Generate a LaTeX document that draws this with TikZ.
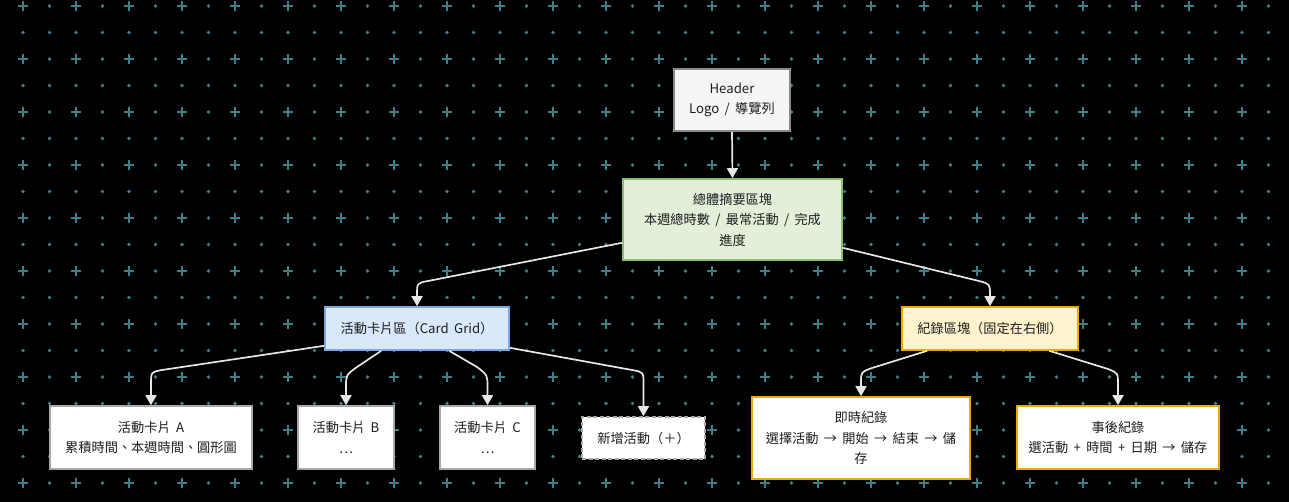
\documentclass[tikz,border=0pt]{standalone}
\usepackage{fontspec}
\setmainfont[WordSpace=1.8]{Noto Sans CJK TC}
\usetikzlibrary{arrows.meta,calc}
\definecolor{bgdot}{HTML}{3F7F88}
\definecolor{edgec}{HTML}{E6E6E6}
\definecolor{txt}{HTML}{1E1E1E}
\definecolor{gfill}{HTML}{E2F0D9}
\definecolor{gdraw}{HTML}{8DBD72}
\definecolor{bfill}{HTML}{DAE8FC}
\definecolor{bdraw}{HTML}{7EA6E0}
\definecolor{yfill}{HTML}{FFF2CC}
\definecolor{ydraw}{HTML}{E8AA00}
\definecolor{hfill}{HTML}{F5F5F5}
\definecolor{hdraw}{HTML}{8A8A8A}
\definecolor{wdraw}{HTML}{A8A8A8}
\tikzset{
  box/.style={rectangle, draw, line width=1.6pt, align=center, inner sep=0pt,
    text=txt, font=\fontsize{13.2}{20.5}\selectfont},
  edge/.style={draw=edgec, line width=1.7pt, -{Triangle[width=11pt,length=10pt]}},
}
\begin{document}
\begin{tikzpicture}[x=1pt,y=-1pt]
\fill[black] (0,0) rectangle (1289,502);
\useasboundingbox (0,0) rectangle (1289,502);
% background dot/plus grid
\foreach \i in {0,...,48} {
  \foreach \j in {0,...,18} {
    \pgfmathsetmacro{\xx}{23+26.5*\i}
    \pgfmathsetmacro{\yy}{6+26.5*\j}
    \pgfmathtruncatemacro{\pp}{mod(\i,2)+mod(\j,2)}
    \ifnum\pp=0
      \fill[bgdot] (\xx-5,\yy-1.4) rectangle (\xx+5,\yy+1.4);
      \fill[bgdot] (\xx-1.4,\yy-5) rectangle (\xx+1.4,\yy+5);
    \else
      \fill[bgdot] (\xx,\yy) circle (1.8);
    \fi
  }
}
% nodes
\node[box, draw=hdraw, fill=hfill, minimum width=116pt, minimum height=62pt] (hdr) at (732,100) {Header\\Logo / 導覽列};
\node[box, draw=gdraw, fill=gfill, minimum width=219pt, minimum height=81pt] (sum) at (732.5,219.5) {總體摘要區塊\\本週總時數 / 最常活動 / 完成\\進度};
\node[box, draw=bdraw, fill=bfill, minimum width=184pt, minimum height=43pt] (grid) at (417,328.5) {活動卡片區（Card Grid）};
\node[box, draw=ydraw, fill=yfill, minimum width=176pt, minimum height=43pt] (rec) at (990,328.5) {紀錄區塊（固定在右側）};
\node[box, draw=wdraw, fill=white, minimum width=202pt, minimum height=63pt] (ca) at (151,437.5) {活動卡片 A\\累積時間、本週時間、圓形圖};
\node[box, draw=wdraw, fill=white, minimum width=96pt, minimum height=63pt] (cb) at (346,437.5) {活動卡片 B\\…};
\node[box, draw=wdraw, fill=white, minimum width=95pt, minimum height=63pt] (cc) at (487.5,437.5) {活動卡片 C\\…};
\node[box, draw=wdraw, fill=white, dash pattern=on 4pt off 2.5pt, minimum width=123pt, minimum height=42pt] (new) at (643.5,438) {新增活動（＋）};
\node[box, draw=ydraw, fill=white, minimum width=218pt, minimum height=82pt] (imm) at (861,438) {即時紀錄\\選擇活動 → 開始 → 結束 → 儲\\存};
\node[box, draw=ydraw, fill=white, minimum width=202pt, minimum height=63pt] (post) at (1118,437.5) {事後紀錄\\選活動 + 時間 + 日期 → 儲存};
% edges
\draw[edge] (hdr.south) -- (sum.north);
\draw[edge] ([yshift=18pt]sum.south west) -- (428,281) .. controls (417,283) .. (417,295) -- (grid.north);
\draw[edge] ([yshift=13pt]sum.south east) -- (979,281) .. controls (990,284) .. (990,295) -- (rec.north);
\draw[edge] ([yshift=5pt]grid.south west) -- (162,370) .. controls (151,372) .. (151,384) -- (ca.north);
\draw[edge] ([xshift=57pt]grid.south west) -- (357,367) .. controls (346,375) .. (346,387) -- (cb.north);
\draw[edge] ([xshift=125pt]grid.south west) -- (477,367) .. controls (487.5,375) .. (487.5,387) -- (cc.north);
\draw[edge] ([yshift=3pt]grid.south east) -- (632,370) .. controls (643.5,372) .. (643.5,384) -- (new.north);
\draw[edge] ([xshift=26pt]rec.south west) -- (872,368) .. controls (861,372) .. (861,382) -- (imm.north);
\draw[edge] ([xshift=148pt]rec.south west) -- (1108,369) .. controls (1118,373) .. (1118,385) -- (post.north);
\end{tikzpicture}
\end{document}
